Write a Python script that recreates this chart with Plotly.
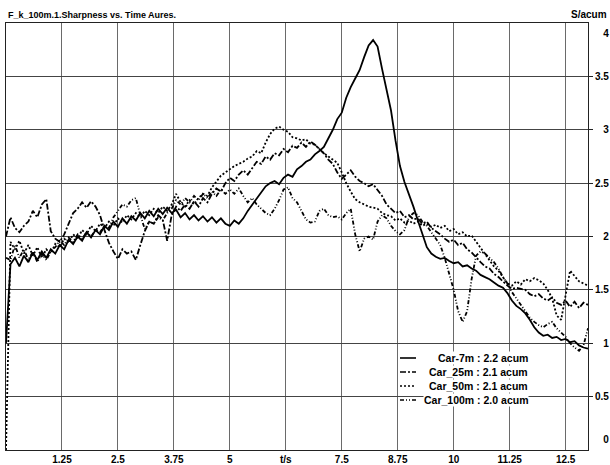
import plotly.graph_objects as go

# time axis (s), 0.0 .. 13.0 in 0.1 s steps
time_s = [round(0.1 * i, 1) for i in range(131)]

car_7m = [1.00,
 1.74, 1.80, 1.72, 1.82, 1.76, 1.85, 1.78, 1.86, 1.80, 1.88,
 1.84, 1.92, 1.88, 1.97, 1.93, 2.00, 1.96, 2.04, 1.99, 2.06,
 2.02, 2.10, 2.06, 2.14, 2.09, 2.17, 2.12, 2.19, 2.15, 2.22,
 2.17, 2.24, 2.19, 2.26, 2.21, 2.27, 2.22, 2.25, 2.18, 2.22,
 2.16, 2.20, 2.15, 2.19, 2.14, 2.18, 2.13, 2.17, 2.12, 2.10,
 2.15, 2.12, 2.17, 2.24, 2.30, 2.36, 2.42, 2.47, 2.50, 2.52,
 2.49, 2.55, 2.58, 2.56, 2.63, 2.66, 2.70, 2.72, 2.77, 2.80,
 2.84, 2.92, 3.00, 3.10, 3.16, 3.30, 3.40, 3.48, 3.56, 3.68,
 3.79, 3.84, 3.78, 3.57, 3.36, 3.18, 2.90, 2.66, 2.51, 2.40,
 2.28, 2.15, 2.02, 1.90, 1.84, 1.81, 1.79, 1.80, 1.77, 1.75,
 1.76, 1.72, 1.73, 1.70, 1.68, 1.64, 1.62, 1.60, 1.57, 1.54,
 1.52, 1.47, 1.40, 1.35, 1.32, 1.28, 1.22, 1.15, 1.10, 1.07,
 1.08, 1.05, 1.06, 1.03, 1.04, 1.01, 1.02, 0.98, 0.96, 0.95]

car_25m = [2.00,
 2.18, 2.08, 2.04, 2.10, 2.14, 2.24, 2.18, 2.30, 2.35, 2.05,
 1.98, 1.95, 2.02, 2.12, 2.22, 2.26, 2.32, 2.27, 2.33, 2.28,
 2.20, 2.06, 1.94, 1.86, 1.79, 1.88, 1.84, 1.86, 1.78, 1.92,
 2.05, 2.14, 2.12, 2.20, 2.16, 1.96, 2.20, 2.28, 2.24, 2.30,
 2.26, 2.33, 2.28, 2.36, 2.32, 2.40, 2.45, 2.42, 2.50, 2.55,
 2.52, 2.58, 2.62, 2.58, 2.64, 2.70, 2.68, 2.75, 2.72, 2.78,
 2.76, 2.82, 2.79, 2.85, 2.83, 2.88, 2.84, 2.89, 2.86, 2.82,
 2.78, 2.72, 2.68, 2.60, 2.54, 2.58, 2.62, 2.56, 2.52, 2.50,
 2.47, 2.49, 2.44, 2.38, 2.30, 2.26, 2.22, 2.24, 2.18, 2.20,
 2.16, 2.17, 2.12, 2.14, 2.08, 2.05, 2.02, 1.98, 1.95, 1.97,
 1.92, 1.94, 1.88, 1.85, 1.80, 1.76, 1.72, 1.70, 1.65, 1.62,
 1.58, 1.54, 1.51, 1.52, 1.51, 1.50, 1.46, 1.44, 1.46, 1.42,
 1.40, 1.43, 1.38, 1.36, 1.40, 1.34, 1.39, 1.33, 1.38, 1.36]

car_50m = [0.00,
 1.95, 1.88, 1.96, 1.84, 1.92, 1.82, 1.90, 1.80, 1.88, 1.84,
 1.93, 1.90, 1.98, 1.94, 2.02, 1.98, 2.06, 2.02, 2.10, 2.05,
 2.12, 2.08, 2.14, 2.10, 2.17, 2.13, 2.20, 2.16, 2.22, 2.18,
 2.24, 2.20, 2.26, 2.22, 2.28, 2.24, 2.30, 2.40, 2.32, 2.28,
 2.34, 2.30, 2.36, 2.40, 2.38, 2.46, 2.52, 2.57, 2.60, 2.63,
 2.66, 2.68, 2.70, 2.73, 2.75, 2.80, 2.78, 2.88, 2.96, 3.01,
 3.03, 3.00, 2.98, 2.93, 2.92, 2.90, 2.91, 2.87, 2.86, 2.82,
 2.78, 2.75, 2.72, 2.69, 2.60, 2.50, 2.42, 2.35, 2.32, 2.30,
 2.28, 2.27, 2.26, 2.22, 2.20, 2.19, 2.15, 2.17, 2.13, 2.15,
 2.12, 2.14, 2.10, 2.12, 2.09, 2.11, 2.08, 2.10, 2.05, 2.07,
 2.02, 2.04, 2.00, 2.01, 1.95, 1.90, 1.84, 1.78, 1.72, 1.68,
 1.62, 1.56, 1.54, 1.58, 1.55, 1.60, 1.58, 1.61, 1.59, 1.56,
 1.50, 1.42, 1.26, 1.22, 1.45, 1.68, 1.63, 1.58, 1.56, 1.54]

car_100m = [1.80,
 1.78, 1.92, 1.80, 1.88, 1.78, 1.86, 1.76, 1.84, 1.78, 1.86,
 1.90, 1.96, 1.92, 1.99, 1.95, 2.02, 1.98, 2.04, 2.00, 2.06,
 2.04, 2.10, 2.08, 2.18, 2.24, 2.30, 2.28, 2.34, 2.36, 2.20,
 2.07, 2.14, 2.12, 2.18, 2.15, 2.22, 2.26, 2.34, 2.30, 2.36,
 2.32, 2.38, 2.34, 2.40, 2.36, 2.42, 2.38, 2.44, 2.40, 2.44,
 2.40, 2.45, 2.38, 2.32, 2.36, 2.30, 2.26, 2.22, 2.20, 2.26,
 2.34, 2.44, 2.46, 2.36, 2.32, 2.24, 2.16, 2.13, 2.14, 2.24,
 2.26, 2.20, 2.18, 2.19, 2.16, 2.22, 2.26, 2.02, 1.86, 1.98,
 2.00, 1.97, 2.14, 2.20, 2.17, 2.10, 2.05, 2.02, 2.06, 2.18,
 2.22, 2.20, 2.14, 2.10, 2.04, 1.99, 1.92, 1.80, 1.64, 1.50,
 1.30, 1.20, 1.30, 1.60, 1.82, 1.86, 1.84, 1.80, 1.76, 1.70,
 1.62, 1.56, 1.48, 1.42, 1.36, 1.30, 1.24, 1.20, 1.17, 1.15,
 1.18, 1.20, 1.14, 1.10, 1.06, 1.00, 0.96, 0.93, 0.98, 1.14]

series_names = ["Car-7m : 2.2 acum", "Car_25m : 2.1 acum",
                "Car_50m : 2.1 acum", "Car_100m : 2.0 acum"]
series_values = [car_7m, car_25m, car_50m, car_100m]
series_dash = ["solid", "6px,2px,2px,2px", "2px,2px", "4px,2px,1px,2px,1px,2px"]

x_tickvals = [1.25, 2.5, 3.75, 5, 6.25, 7.5, 8.75, 10, 11.25, 12.5]
x_ticktext = ["1.25", "2.5", "3.75", "5", "t/s", "7.5", "8.75", "10", "11.25", "12.5"]
y_tickvals = [0.5, 1, 1.5, 2, 2.5, 3, 3.5]
y_ticktext = ["0.5", "1", "1.5", "2", "2.5", "3", "3.5"]

NB = "\u00a0"
def pad_right(s):
    # pad so that labels end flush at the right (digit = 2 nbsp, '.' = 1 nbsp)
    width = sum(2 if c.isdigit() else 1 for c in s)
    return NB * (5 - width) + s

FONT = "Liberation Sans, Arial, sans-serif"
W, H = 610, 465
ML, MR, MT, MB = 6, 22, 23, 15
PW = W - ML - MR
PH = H - MT - MB

def px_x(p):
    return (p - ML) / PW

def px_y(p):
    return (H - MB - p) / PH

fig = go.Figure()
for name, vals, dash in zip(series_names, series_values, series_dash):
    fig.add_trace(go.Scatter(
        x=time_s, y=vals, mode="lines", name=name,
        line=dict(color="black", width=1.8, dash=dash),
    ))

fig.update_layout(
    width=W, height=H,
    margin=dict(l=ML, r=MR, t=MT, b=MB),
    paper_bgcolor="white", plot_bgcolor="white",
    font=dict(family=FONT, size=10, color="black", weight="bold"),
    showlegend=False,
    xaxis=dict(range=[0, 13], tickvals=x_tickvals, ticktext=x_ticktext,
               showgrid=True, gridcolor="#6a6a6a", gridwidth=1,
               showline=True, linecolor="#222", linewidth=1, mirror=True,
               ticks="", zeroline=False, automargin=False,
               tickfont=dict(size=10, weight="bold")),
    yaxis=dict(range=[0, 4], side="right", tickvals=y_tickvals,
               ticktext=[pad_right(t) for t in y_ticktext],
               showgrid=True, gridcolor="#444", gridwidth=1,
               showline=True, linecolor="#222", linewidth=1, mirror=True,
               ticks="outside", ticklen=4, tickcolor="#222",
               zeroline=False, automargin=False,
               tickfont=dict(size=10, weight="bold")),
)

fig.add_annotation(text="F_k_100m.1.Sharpness vs. Time Aures.", xref="paper", yref="paper",
                   x=0, y=1, xanchor="left", yanchor="bottom", yshift=1, showarrow=False,
                   font=dict(size=9, weight="bold"))
fig.add_annotation(text="S/acum", xref="paper", yref="paper",
                   x=1, y=1, xanchor="right", yanchor="bottom", xshift=21, yshift=1,
                   showarrow=False, font=dict(size=10, weight="bold"))
fig.add_annotation(text=pad_right("4"), xref="paper", yref="y", x=1, y=4, xanchor="left",
                   yanchor="top", xshift=5, yshift=-3, showarrow=False,
                   font=dict(size=10, weight="bold"))
fig.add_annotation(text=pad_right("0"), xref="paper", yref="y", x=1, y=0, xanchor="left",
                   yanchor="bottom", xshift=5, yshift=3, showarrow=False,
                   font=dict(size=10, weight="bold"))

# legend box (white, hides the grid behind it)
fig.add_shape(type="rect", xref="paper", yref="paper", layer="between",
              x0=px_x(396), x1=px_x(532), y0=px_y(392), y1=px_y(346),
              fillcolor="white", line=dict(width=0))
row_y = [358, 372, 386, 400]
for name, dash, ry in zip(series_names, series_dash, row_y):
    fig.add_shape(type="line", xref="paper", yref="paper",
                  x0=px_x(400), x1=px_x(416), y0=px_y(ry), y1=px_y(ry),
                  line=dict(color="black", width=1.6, dash=dash))
    fig.add_annotation(text=name, xref="paper", yref="paper", x=px_x(529), y=px_y(ry),
                       xanchor="right", yanchor="middle", showarrow=False,
                       bgcolor="white", borderpad=0,
                       font=dict(size=10.5, weight="bold"))

fig.write_html("out.html", config={"displayModeBar": False},
               post_script="document.body.style.margin='0px';document.body.style.padding='0px';")
